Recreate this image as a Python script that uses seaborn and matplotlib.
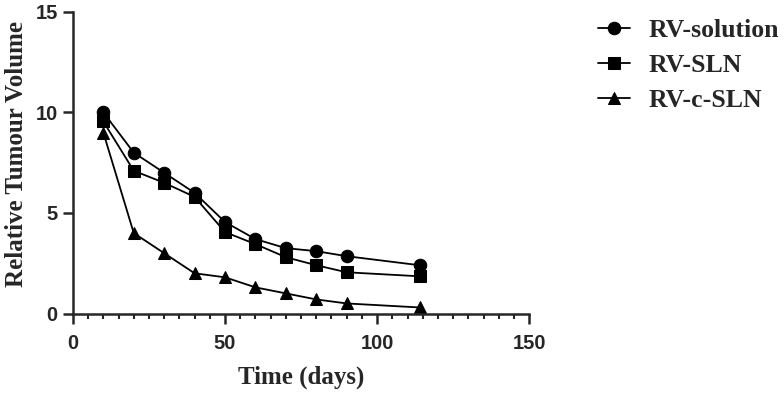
import matplotlib
matplotlib.use("Agg")
import matplotlib.pyplot as plt
from matplotlib.ticker import MultipleLocator
import seaborn as sns
import pandas as pd

days = [10, 20, 30, 40, 50, 60, 70, 80, 90, 114]
rv_solution = [10.0, 8.0, 7.0, 6.0, 4.55, 3.7, 3.25, 3.1, 2.85, 2.4]
rv_sln = [9.55, 7.1, 6.5, 5.8, 4.05, 3.45, 2.8, 2.4, 2.05, 1.85]
rv_c_sln = [9.0, 4.0, 3.0, 2.0, 1.8, 1.3, 1.0, 0.7, 0.5, 0.3]
groups = ["RV-solution", "RV-SLN", "RV-c-SLN"]

df = pd.DataFrame({
    "day": days * 3,
    "volume": rv_solution + rv_sln + rv_c_sln,
    "group": [g for g in groups for _ in days],
})

sns.set_style("ticks")
plt.rcParams["font.family"] = ["Liberation Serif", "DejaVu Serif"]

fig = plt.figure(figsize=(7.84, 4.0), dpi=100)
ax = fig.add_axes([0.093, 0.21625, 0.582, 0.754])

sns.lineplot(data=df, x="day", y="volume", hue="group", style="group",
             palette=["black"] * 3, markers=["o", "s", "^"], dashes=False,
             markersize=9, linewidth=1.3, markeredgecolor="black", ax=ax)

ax.set_xlim(0, 150)
ax.set_ylim(0, 15)
ax.xaxis.set_major_locator(MultipleLocator(50))
ax.xaxis.set_minor_locator(MultipleLocator(5))
ax.yaxis.set_major_locator(MultipleLocator(5))
sns.despine(ax=ax)
for s in ["left", "bottom"]:
    ax.spines[s].set_linewidth(1.8)
ax.tick_params(which="major", length=7, width=1.8, labelsize=14.5)
ax.tick_params(axis="x", which="major", pad=7.5)
ax.tick_params(axis="y", which="major", pad=4)
ax.tick_params(which="minor", length=3.5, width=1.5)
for lab in ax.get_xticklabels() + ax.get_yticklabels():
    lab.set_fontfamily("Liberation Sans")
    lab.set_fontweight("bold")

ax.set_xlabel("Time (days)", fontsize=18, fontweight="bold")
ax.xaxis.set_label_coords(0.5, -0.174)
ax.set_ylabel("Relative Tumour Volume", fontsize=18, fontweight="bold")
ax.yaxis.set_label_coords(-0.098, 0.53)

leg = ax.legend(loc="upper left", bbox_to_anchor=(598 / 784, 0.953),
                bbox_transform=fig.transFigure, frameon=False,
                fontsize=18.5, handlelength=1.25, handletextpad=0.7,
                labelspacing=0.47, markerscale=1.0, borderpad=0, borderaxespad=0)
for t in leg.get_texts():
    t.set_fontweight("bold")

fig.savefig("out.png", dpi=100)
